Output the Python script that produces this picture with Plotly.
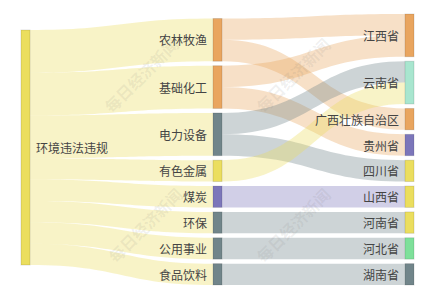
import plotly.graph_objects as go

# ---------------- data ----------------
root = ["环境违法违规"]
industries = ["农林牧渔", "基础化工", "电力设备", "有色金属", "煤炭", "环保", "公用事业", "食品饮料"]
provinces = ["江西省", "云南省", "广西壮族自治区", "贵州省", "四川省", "山西省", "河南省", "河北省", "湖南省"]

# root -> industry
root_values = [2, 2, 2, 1, 1, 1, 1, 1]
# industry -> province
link_src = ["农林牧渔", "农林牧渔", "基础化工", "基础化工", "电力设备", "电力设备", "有色金属", "煤炭", "环保", "公用事业", "食品饮料"]
link_tgt = ["江西省", "广西壮族自治区", "江西省", "贵州省", "云南省", "四川省", "云南省", "山西省", "河南省", "河北省", "湖南省"]
link_val = [1, 1, 1, 1, 1, 1, 1, 1, 1, 1, 1]

# ---------------- style ----------------
ORANGE = (233, 165, 95)
YELLOW = (235, 222, 94)
PURPLE = (124, 118, 186)
SLATE = (113, 133, 138)
MINT = (168, 230, 207)
GREEN = (126, 224, 154)

node_rgb = {
    "环境违法违规": YELLOW,
    "农林牧渔": ORANGE, "基础化工": ORANGE, "电力设备": SLATE, "有色金属": YELLOW,
    "煤炭": PURPLE, "环保": SLATE, "公用事业": SLATE, "食品饮料": SLATE,
    "江西省": ORANGE, "云南省": MINT, "广西壮族自治区": ORANGE, "贵州省": PURPLE,
    "四川省": YELLOW, "山西省": YELLOW, "河南省": YELLOW, "河北省": GREEN, "湖南省": SLATE,
}

W, H = 435, 300
M_L, M_R, M_T, M_B = 0, 0, 14, 15
PLOT_W = W - M_L - M_R
PLOT_H = H - M_T - M_B
PAD = 4.5
THICK = 9
LABEL_GAP = 4
col_x = [0.0586, 0.5, 0.9414]
col_align = ["center", "bottom", "top"]
col_label_side = ["right", "left", "left"]

labels = root + industries + provinces
idx = {n: i for i, n in enumerate(labels)}

sources = [idx[root[0]]] * len(industries) + [idx[s] for s in link_src]
targets = [idx[t] for t in industries] + [idx[t] for t in link_tgt]
values = root_values + link_val

inflow = {n: 0 for n in labels}
outflow = {n: 0 for n in labels}
for s, t, v in zip(sources, targets, values):
    outflow[labels[s]] += v
    inflow[labels[t]] += v
nval = {n: max(inflow[n], outflow[n]) for n in labels}

columns = [root, industries, provinces]
ky = min((PLOT_H - (len(c) - 1) * PAD) / sum(nval[n] for n in c) for c in columns)

node_x = [0] * len(labels)
node_y = [0] * len(labels)
for ci, col in enumerate(columns):
    total = sum(nval[n] for n in col) * ky + (len(col) - 1) * PAD
    if col_align[ci] == "top":
        y = 0
    elif col_align[ci] == "bottom":
        y = PLOT_H - total
    else:
        y = (PLOT_H - total) / 2 - 2
    for n in col:
        h = nval[n] * ky
        node_x[idx[n]] = col_x[ci]
        node_y[idx[n]] = (y + h / 2) / PLOT_H
        y += h + PAD


def rgba(c, a):
    return f"rgba({c[0]},{c[1]},{c[2]},{a})"


node_colors = [rgba(node_rgb[n], 1) for n in labels]
link_colors = [rgba(node_rgb[labels[s]], 0.35) for s in sources]

fig = go.Figure(go.Sankey(
    arrangement="fixed",
    node=dict(
        label=[""] * len(labels),
        customdata=labels,
        hovertemplate="%{customdata}: %{value}<extra></extra>",
        x=node_x,
        y=node_y,
        pad=PAD,
        thickness=THICK,
        color=node_colors,
        line=dict(color="rgba(0,0,0,0.12)", width=1),
    ),
    link=dict(source=sources, target=targets, value=values, color=link_colors),
    textfont=dict(family="Noto Sans CJK SC", size=12, color="#444"),
))

# node labels (placed beside their node)
for ci, col in enumerate(columns):
    for n in col:
        cx = col_x[ci] * PLOT_W
        if col_label_side[ci] == "right":
            lx, anchor = cx + THICK / 2 + LABEL_GAP, "left"
        else:
            lx, anchor = cx - THICK / 2 - LABEL_GAP, "right"
        fig.add_annotation(
            text=n, xref="paper", yref="paper",
            x=lx / PLOT_W, y=1 - node_y[idx[n]],
            xanchor=anchor, yanchor="middle", showarrow=False,
            font=dict(family="Noto Sans CJK SC", size=12, color="#444"),
        )

# watermark
wm_pos = [(141, 75), (293, 75), (145, 225), (293, 225)]
for px, py in wm_pos:
    fig.add_annotation(
        text="<b>每日经济新闻</b>", xref="paper", yref="paper",
        x=(px - M_L) / PLOT_W, y=1 - (py - M_T) / PLOT_H,
        xanchor="center", yanchor="middle",
        showarrow=False, textangle=-45,
        font=dict(family="Noto Sans CJK SC", size=16, color="rgba(110,110,110,0.10)"),
    )

fig.update_layout(
    width=W, height=H,
    margin=dict(l=M_L, r=M_R, t=M_T, b=M_B),
    paper_bgcolor="white",
    font=dict(family="Noto Sans CJK SC"),
)
fig.write_html("out.html")
